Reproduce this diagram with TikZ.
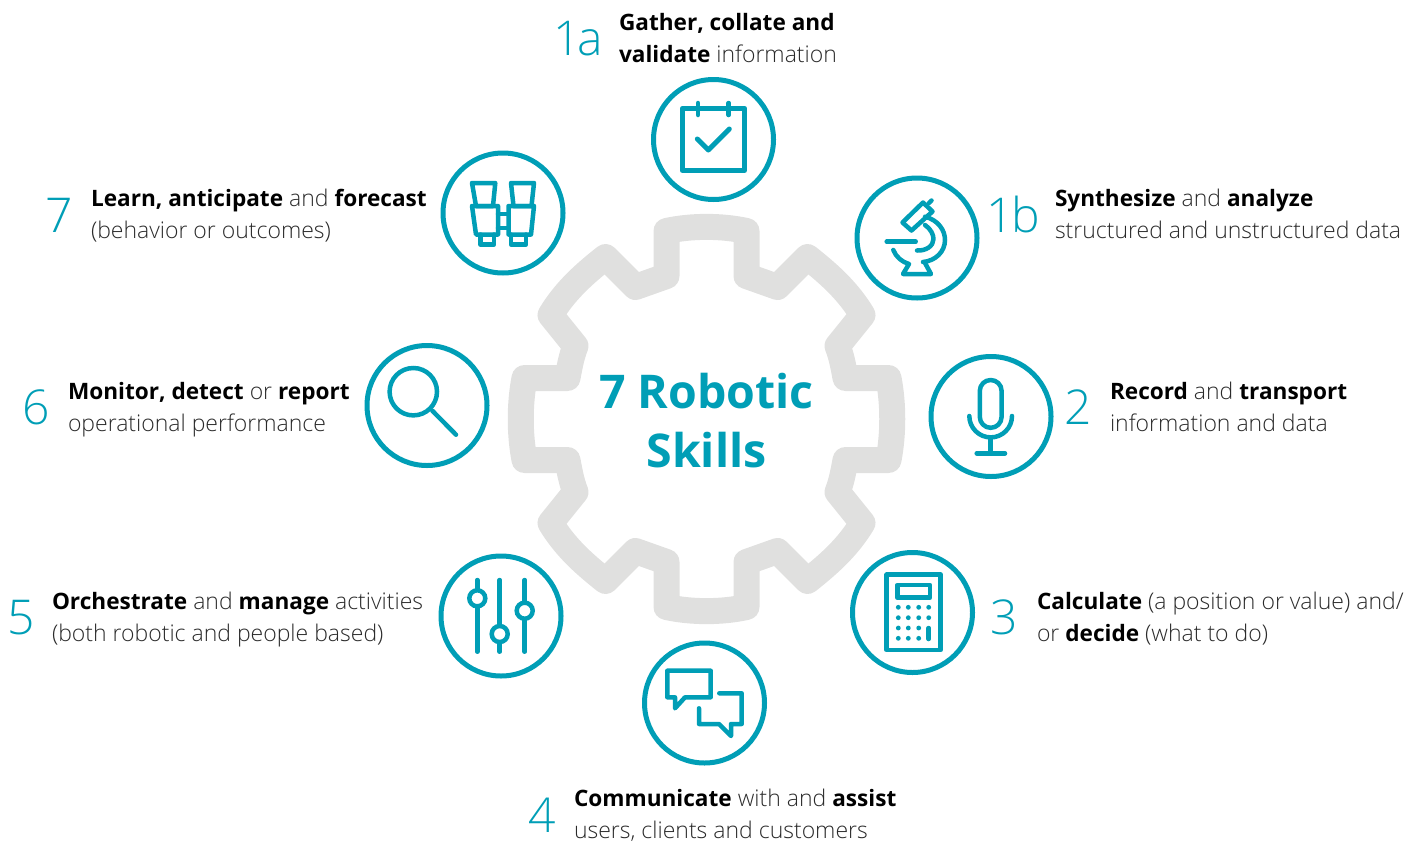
\documentclass[tikz,border=0pt]{standalone}
\usepackage{fontspec}
\setmainfont{Open Sans Light}[BoldFont={Open Sans Bold}]
\newfontfamily\bigbold{Open Sans Bold}
\definecolor{teal}{HTML}{009EB6}
\definecolor{geargray}{HTML}{E0E0DF}
\definecolor{bodyink}{HTML}{2A2A2A}
\tikzset{
  ring/.style={circle,draw=teal,line width=5pt,minimum size=120pt,inner sep=0pt,fill=white},
  icon/.style={draw=teal,line width=4.5pt,line join=round,line cap=round},
  gearline/.style={draw=geargray,line width=26pt,line join=round},
  txt/.style={anchor=north west,inner sep=0pt,outer sep=0pt,align=left,text=bodyink,font=\fontsize{23}{32}\selectfont},
  num/.style={anchor=base west,inner sep=0pt,outer sep=0pt,text=teal,font=\fontsize{48}{48}\selectfont},
  title/.style={anchor=base,inner sep=0pt,outer sep=0pt,text=teal,font=\fontsize{46.5}{50}\bigbold\selectfont}
}
\newcommand{\firstline}{\rule{0pt}{18pt}}
\newcommand{\bk}[1]{\textcolor{black}{\fontsize{22.6}{32}\selectfont\textbf{#1}}}
\begin{document}
\begin{tikzpicture}[x=1pt,y=-1pt]
\useasboundingbox (0,0) rectangle (1419,841);
% gear
\begin{scope}[shift={(706.5,419)}]
\draw[gearline]
 (40,-188) -- (40,-143) -- (71,-132) -- (101,-162)
 .. controls (125,-143) and (142,-127) .. (156,-104)
 -- (131,-73) .. controls (135,-63) and (137,-52) .. (139,-41)
 -- (182,-41) .. controls (187,-15) and (187,15) .. (182,41)
 -- (139,41) .. controls (137,52) and (135,63) .. (131,73)
 -- (156,104) .. controls (142,127) and (125,143) .. (101,162)
 -- (71,132) -- (40,143) -- (40,188)
 .. controls (15,193.5) and (-15,193.5) .. (-40,188)
 -- (-40,143) -- (-71,132) -- (-101,162)
 .. controls (-125,143) and (-142,127) .. (-156,104)
 -- (-131,73) .. controls (-135,63) and (-137,52) .. (-139,41)
 -- (-182,41) .. controls (-187,15) and (-187,-15) .. (-182,-41)
 -- (-139,-41) .. controls (-137,-52) and (-135,-63) .. (-131,-73)
 -- (-156,-104) .. controls (-142,-127) and (-125,-143) .. (-101,-162)
 -- (-71,-132) -- (-40,-143) -- (-40,-188)
 .. controls (-15,-193.5) and (15,-193.5) .. (40,-188) -- cycle;
\end{scope}
\node[title] (titleA) at (706.5,408) {7 Robotic};
\node[title] (titleB) at (706.5,467) {Skills};
% rings
\node[ring] (r1a) at (713.5,139.5) {};
\node[ring] (r1b) at (917,238) {};
\node[ring] (r2) at (991,416.5) {};
\node[ring] (r3) at (912.5,612.5) {};
\node[ring] (r4) at (704.5,703) {};
\node[ring] (r5) at (501,616) {};
\node[ring] (r6) at (427,405.5) {};
\node[ring] (r7) at (503,213) {};
% calendar
\draw[icon] (682.3,108.3) rectangle (744.7,170.7);
\draw[icon] (698,103) -- (698,115);
\draw[icon] (728.7,103) -- (728.7,115);
\draw[icon,line width=5pt] (697.3,139) -- (708.3,150) -- (729.3,129);
% microscope
\draw[icon] (902.5,222.5) -- (923,202.5) -- (932.5,211.5) -- (911.5,230.5) -- cycle;
\draw[icon] (929,203) -- (931.5,200.5);
\draw[icon] (925,216.7) .. controls (938,220) and (945,230) .. (945,240) .. controls (945,252) and (935,261) .. (923,262);
\draw[icon] (925,225) .. controls (931,229) and (933.5,235) .. (933.5,239) .. controls (933.5,246) and (926,251) .. (917,250.5);
\draw[icon] (886.7,241.7) -- (915.7,241.7);
\draw[icon] (893.3,250) .. controls (896,257) and (902,262) .. (909,264) -- (903,274) -- (931,274) -- (925,263);
% mic
\draw[icon,rounded corners=10.9pt] (979.8,380) rectangle (1001.6,427.8);
\draw[icon] (969.3,416) .. controls (969.3,427.8) and (979,437.4) .. (990.7,437.4) .. controls (1002.5,437.4) and (1012,427.8) .. (1012,416);
\draw[icon] (990.7,437.4) -- (990.7,453.3);
\draw[icon] (976.7,453.3) -- (1005,453.3);
% calculator
\draw[icon] (886.7,574.7) rectangle (940.7,650);
\draw[icon] (897.3,585) rectangle (930,597.7);
\foreach \y in {607.3,617.7,628,638.3}{
  \foreach \x in {898.3,908.3,918.7}{\fill[teal] (\x,\y) circle[radius=2.4pt];}
}
\fill[teal] (928.7,607.3) circle[radius=2.4pt];
\fill[teal] (928.7,617.7) circle[radius=2.4pt];
\draw[icon] (928.7,628) -- (928.7,639);
% chat
\draw[icon] (667.3,670.7) -- (710.7,670.7) -- (710.7,697.3) -- (685,697.3) -- (675,708.3) -- (675,697.3) -- (667.3,697.3) -- cycle;
\draw[icon] (719.3,693.3) -- (741.7,693.3) -- (741.7,724) -- (731,724) -- (731,736) -- (719,724) -- (699,724) -- (699,708.3);
% sliders
\draw[icon] (477.3,580) -- (477.3,651.7);
\draw[icon] (499.7,580) -- (499.7,651.7);
\draw[icon] (524.7,580) -- (524.7,651.7);
\node[circle,draw=teal,fill=white,line width=4.5pt,minimum size=16pt,inner sep=0pt] (k1) at (477.3,598.3) {};
\node[circle,draw=teal,fill=white,line width=4.5pt,minimum size=16pt,inner sep=0pt] (k2) at (499.7,634) {};
\node[circle,draw=teal,fill=white,line width=4.5pt,minimum size=16pt,inner sep=0pt] (k3) at (524.7,610.7) {};
% magnifier
\node[circle,draw=teal,line width=4.5pt,minimum size=47.4pt,inner sep=0pt] (lens) at (413.3,391.7) {};
\draw[icon] (432.3,410.7) -- (456,434.7);
% binoculars
\draw[icon] (472,183) -- (495.3,183) -- (493,206) -- (476,206) -- cycle;
\draw[icon] (472,206) -- (498,206) -- (498,234.5) -- (476,234.5) -- cycle;
\draw[icon] (480.5,234.5) -- (480.5,244.5) -- (494,244.5) -- (494,234.5);
\draw[icon] (511,183) -- (534,183) -- (531.5,206) -- (513.5,206) -- cycle;
\draw[icon] (508.5,206) -- (534,206) -- (531,234.5) -- (508.5,234.5) -- cycle;
\draw[icon] (511,234.5) -- (511,244.5) -- (526,244.5) -- (526,234.5);
\draw[icon] (498,214) -- (508.5,214);
\draw[icon] (498,228) -- (508.5,228);
% numbers
\node[num] (n1a) at (553,55) {1\kern-3pt a};
\node[num] (n1b) at (986,232) {1\kern-2pt b};
\node[num] (n2) at (1064,424) {2};
\node[num] (n3) at (990,634) {3};
\node[num] (n4) at (528,832) {4};
\node[num] (n5) at (7,634) {5};
\node[num] (n6) at (22,424) {6};
\node[num] (n7) at (45,232) {7};
% texts
\node[txt] (t1a) at (619,12) {\firstline\bk{Gather, collate and}\\\bk{validate} information};
\node[txt] (t1b) at (1055,188) {\firstline\bk{Synthesize} and \bk{analyze}\\structured and unstructured data};
\node[txt] (t2) at (1110,381) {\firstline\bk{Record} and \bk{transport}\\information and data};
\node[txt] (t3) at (1037,591) {\firstline\bk{Calculate} (a position or value) and/\\or \bk{decide} (what to do)};
\node[txt] (t4) at (574,788) {\firstline\bk{Communicate} with and \bk{assist}\\users, clients and customers};
\node[txt] (t5) at (52,591) {\firstline\bk{Orchestrate} and \bk{manage} activities\\(both robotic and people based)};
\node[txt] (t6) at (68,381) {\firstline\bk{Monitor, detect} or \bk{report}\\operational performance};
\node[txt] (t7) at (91,188) {\firstline\bk{Learn, anticipate} and \bk{forecast}\\(behavior or outcomes)};
\end{tikzpicture}
\end{document}
